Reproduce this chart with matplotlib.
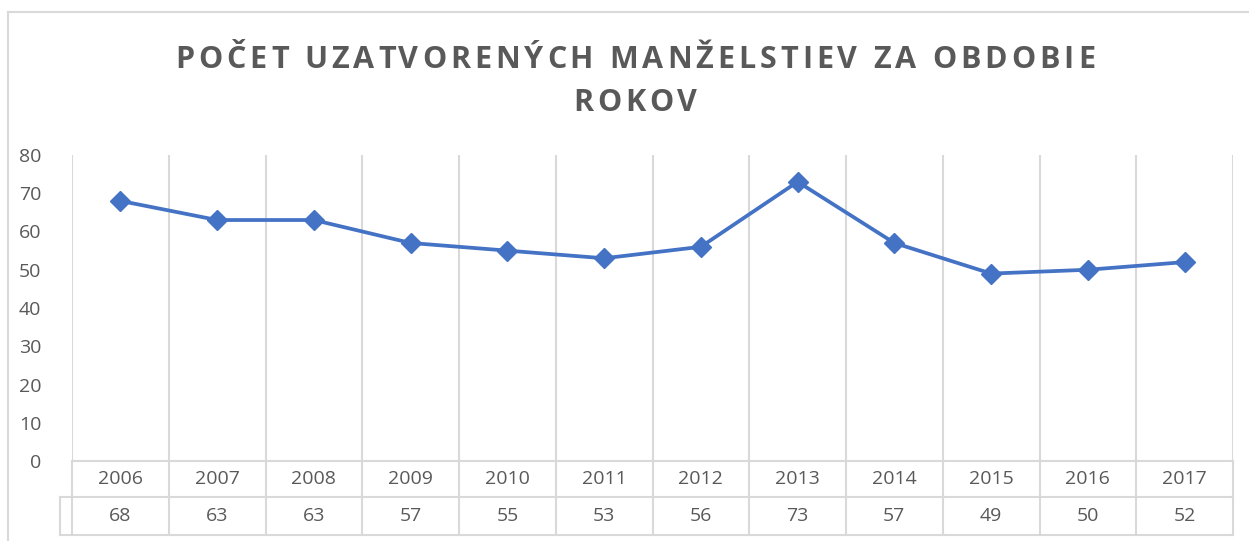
import matplotlib
matplotlib.use("Agg")
import matplotlib.pyplot as plt
from matplotlib.lines import Line2D

# data
years = ["2006", "2007", "2008", "2009", "2010", "2011",
         "2012", "2013", "2014", "2015", "2016", "2017"]
marriages = [68, 63, 63, 57, 55, 53, 56, 73, 57, 49, 50, 52]
y_ticks = [0, 10, 20, 30, 40, 50, 60, 70, 80]
title_lines = ["POČET UZATVORENÝCH MANŽELSTIEV ZA OBDOBIE", "ROKOV"]

W, H = 1249, 541
text_col = "#595959"
grid_col = "#D9D9D9"
line_col = "#4472C4"

plt.rcParams['font.family'] = ['Open Sans', 'DejaVu Sans']

fig = plt.figure(figsize=(W / 100, H / 100), dpi=100)
renderer = fig.canvas.get_renderer()


def text_width(s, **kw):
    t = fig.text(0, 0, s, **kw)
    w = t.get_window_extent(renderer).width
    t.remove()
    return w


def spaced_text(xc, yc, s, track, **kw):
    # draw text char by char with extra letter spacing (pixels), centred at xc
    ref = text_width("H", **kw)
    lefts = [text_width(s[:i] + "H", **kw) - ref if i else 0 for i in range(len(s))]
    total = text_width(s, **kw) + track * (len(s) - 1)
    x0 = xc - total / 2
    for i, ch in enumerate(s):
        if ch == " ":
            continue
        fig.text((x0 + lefts[i] + track * i) / W, yc / H, ch,
                 ha="left", va="baseline", **kw)


# plot area in pixel positions of the reference
left, right, top, bottom = 72, 1233, 155, 461
ax = fig.add_axes([left / W, 1 - bottom / H, (right - left) / W, (bottom - top) / H])

x = list(range(len(years)))
ax.plot(x, marriages, color=line_col, lw=2.7, marker="D", markersize=10,
        solid_joinstyle="round", zorder=3)

ax.set_xlim(-0.5, len(years) - 0.5)
ax.set_ylim(0, 80)
ax.set_yticks(y_ticks)
ax.set_yticklabels([str(v) for v in y_ticks], fontsize=14, color=text_col)
ax.tick_params(axis="y", length=0, pad=22)
ax.set_xticks([])
for s in ax.spines.values():
    s.set_visible(False)

# category gridlines
for i in range(len(years) + 1):
    ax.axvline(i - 0.5, color=grid_col, lw=1.5, zorder=1)

# data table below the plot
tr = ax.get_xaxis_transform()
row1 = -36 / (bottom - top)
row2 = -74 / (bottom - top)
stub = -0.5 - 12 / ((right - left) / len(years))
kw = dict(transform=tr, color=grid_col, lw=1.5, clip_on=False)
ax.add_line(Line2D([-0.5, len(years) - 0.5], [0, 0], **kw))
ax.add_line(Line2D([stub, len(years) - 0.5], [row1, row1], **kw))
ax.add_line(Line2D([stub, len(years) - 0.5], [row2, row2], **kw))
ax.add_line(Line2D([stub, stub], [row1, row2], **kw))
for i in range(len(years) + 1):
    ax.add_line(Line2D([i - 0.5, i - 0.5], [0, row2], **kw))
for i, (yr, v) in enumerate(zip(years, marriages)):
    ax.text(i, row1 / 2, yr, transform=tr, ha="center", va="center",
            fontsize=14, color=text_col)
    ax.text(i, (row1 + row2) / 2, str(v), transform=tr, ha="center",
            va="center", fontsize=14, color=text_col)

# outer chart border
fig.add_artist(Line2D([8 / W, 8 / W], [0, 1 - 12 / H], transform=fig.transFigure,
                      color=grid_col, lw=1.5))
fig.add_artist(Line2D([8 / W, 1], [1 - 12 / H, 1 - 12 / H], transform=fig.transFigure,
                      color=grid_col, lw=1.5))

# title with letter spacing (baselines at ~68 and ~111 px from top)
tkw = dict(fontsize=22, fontweight="bold", color=text_col)
spaced_text(635, H - 68, title_lines[0], 4.0, **tkw)
spaced_text(635, H - 111, title_lines[1], 4.0, **tkw)

fig.savefig("out.png", dpi=100)
